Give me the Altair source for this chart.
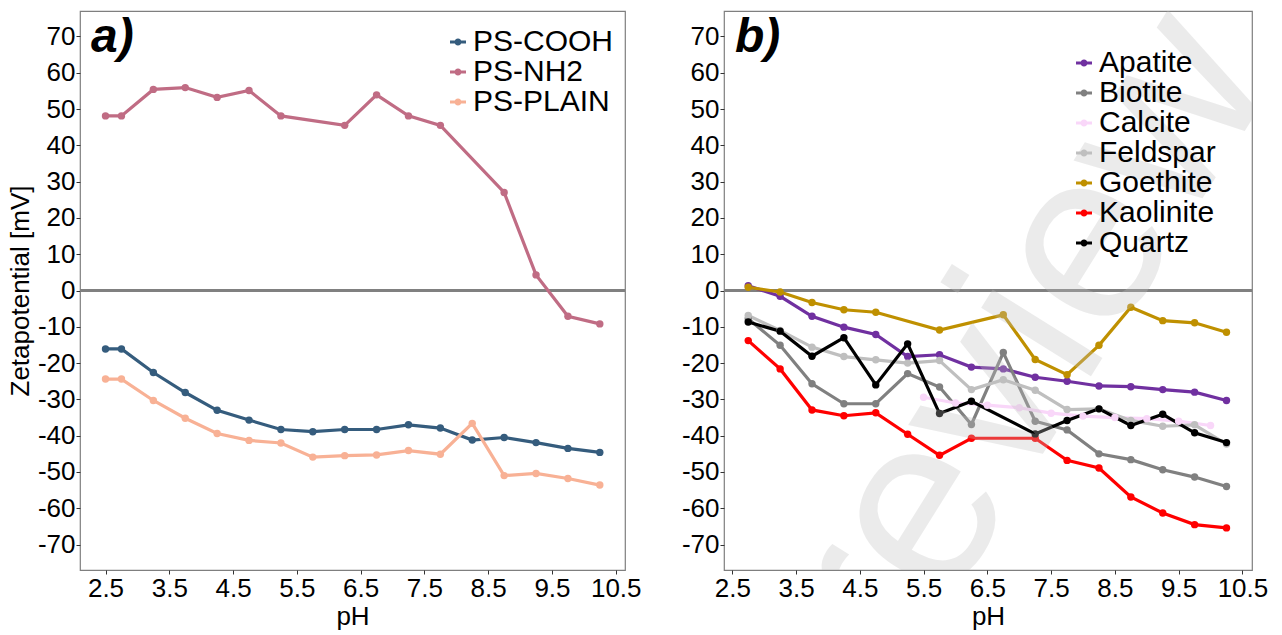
import altair as alt
import pandas as pd

# ---------------- data ----------------
# panel a
SERIES_A = ["PS-COOH", "PS-NH2", "PS-PLAIN"]
COLORS_A = ["#355C7D", "#C06C84", "#F8B195"]
PH_A = [2.5, 2.75, 3.25, 3.75, 4.25, 4.75, 5.25, 5.75, 6.25, 6.75, 7.25, 7.75, 8.25, 8.75, 9.25, 9.75, 10.25]
PS_COOH = [-16.1, -16.1, -22.6, -28.1, -33.0, -35.7, -38.3, -38.9, -38.3, -38.3, -37.0, -37.9, -41.2, -40.5, -41.9, -43.5, -44.6]
PS_PLAIN = [-24.4, -24.4, -30.3, -35.2, -39.4, -41.3, -42.0, -45.9, -45.5, -45.3, -44.1, -45.1, -36.6, -51.0, -50.4, -51.8, -53.6]
PH_NH2 = [2.5, 2.75, 3.25, 3.75, 4.25, 4.75, 5.25, 6.25, 6.75, 7.25, 7.75, 8.75, 9.25, 9.75, 10.25]
PS_NH2 = [48.1, 48.1, 55.4, 55.9, 53.2, 55.1, 48.1, 45.5, 53.9, 48.1, 45.5, 27.0, 4.3, -7.1, -9.2]

# panel b
SERIES_B = ["Apatite", "Biotite", "Calcite", "Feldspar", "Goethite", "Kaolinite", "Quartz"]
COLORS_B = ["#7030A0", "#808080", "#F9D7F9", "#BFBFBF", "#BF9000", "#FF0000", "#000000"]
PH_B = [2.75, 3.25, 3.75, 4.25, 4.75, 5.25, 5.75, 6.25, 6.75, 7.25, 7.75, 8.25, 8.75, 9.25, 9.75, 10.25]
APATITE = [1.3, -1.6, -7.1, -10.1, -12.1, -18.2, -17.7, -21.1, -21.6, -23.9, -25.0, -26.3, -26.5, -27.3, -28.0, -30.3]
BIOTITE = [-7.8, -15.1, -25.7, -31.2, -31.2, -22.9, -26.6, -36.9, -17.1, -36.0, -38.4, -45.0, -46.6, -49.4, -51.4, -54.0]
PH_CALCITE = [5.5, 6.0, 6.5, 7.0, 7.5, 8.0, 8.5, 9.0, 9.5, 10.0]
CALCITE = [-29.4, -31.0, -31.6, -32.3, -33.8, -34.6, -35.0, -35.3, -36.0, -37.2]
FELDSPAR = [-6.9, -11.0, -15.6, -18.2, -19.1, -20.0, -19.3, -27.3, -24.6, -27.5, -32.8, -32.6, -35.8, -37.4, -37.0, -42.3]
PH_GOETHITE = [2.75, 3.25, 3.75, 4.25, 4.75, 5.75, 6.75, 7.25, 7.75, 8.25, 8.75, 9.25, 9.75, 10.25]
GOETHITE = [0.9, -0.4, -3.3, -5.3, -6.0, -10.9, -6.7, -19.0, -23.2, -15.1, -4.6, -8.3, -8.9, -11.5]
PH_KAOLINITE = [2.75, 3.25, 3.75, 4.25, 4.75, 5.25, 5.75, 6.25, 7.25, 7.75, 8.25, 8.75, 9.25, 9.75, 10.25]
KAOLINITE = [-13.8, -21.6, -32.9, -34.5, -33.7, -39.6, -45.4, -40.7, -40.7, -46.8, -48.9, -56.9, -61.3, -64.5, -65.4]
PH_QUARTZ = [2.75, 3.25, 3.75, 4.25, 4.75, 5.25, 5.75, 6.25, 7.25, 7.75, 8.25, 8.75, 9.25, 9.75, 10.25]
QUARTZ = [-8.7, -11.2, -18.1, -13.0, -26.0, -14.7, -33.9, -30.5, -39.5, -35.8, -32.6, -37.2, -34.1, -39.2, -41.9]

X_TICKS = [2.5, 3.5, 4.5, 5.5, 6.5, 7.5, 8.5, 9.5, 10.5]
Y_TICKS = [-70, -60, -50, -40, -30, -20, -10, 0, 10, 20, 30, 40, 50, 60, 70]
PANEL_LABELS = ["a)", "b)"]
WATERMARK = ["review Only"]


def long_table(items):
    rows = []
    for name, xs, ys in items:
        for x, y in zip(xs, ys):
            rows.append({"series": name, "pH": x, "zeta": y})
    return pd.DataFrame(rows)


df_a = long_table([
    ("PS-COOH", PH_A, PS_COOH),
    ("PS-NH2", PH_NH2, PS_NH2),
    ("PS-PLAIN", PH_A, PS_PLAIN),
])
df_b = long_table([
    ("Apatite", PH_B, APATITE),
    ("Biotite", PH_B, BIOTITE),
    ("Calcite", PH_CALCITE, CALCITE),
    ("Feldspar", PH_B, FELDSPAR),
    ("Goethite", PH_GOETHITE, GOETHITE),
    ("Kaolinite", PH_KAOLINITE, KAOLINITE),
    ("Quartz", PH_QUARTZ, QUARTZ),
])

FONT = "Liberation Sans"
SYMBOL = "M-1,-0.19H1V0.19H-1Z M0.44,0A0.44,0.44,0,1,1,-0.44,0A0.44,0.44,0,1,1,0.44,0Z"
Y_DOMAIN = [-77, 77]


def panel(df, series, colors, xdom, width, legend_x, legend_y, ytitle, label):
    x = alt.X("pH:Q", scale=alt.Scale(domain=xdom, nice=False, zero=False),
              axis=alt.Axis(values=X_TICKS, tickCount=20, labelExpr="'' + datum.value",
                            title="pH", titlePadding=2, labelOverlap=False))
    if ytitle:
        yaxis = alt.Axis(values=Y_TICKS, tickCount=20, labelExpr="'' + datum.value", title=ytitle,
                         titlePadding=3, minExtent=44, maxExtent=44, labelOverlap=False)
    else:
        yaxis = alt.Axis(values=Y_TICKS, tickCount=20, labelExpr="'' + datum.value", title=None,
                         minExtent=44, maxExtent=44, labelOverlap=False)
    y = alt.Y("zeta:Q", scale=alt.Scale(domain=Y_DOMAIN, nice=False, zero=False), axis=yaxis)
    legend = alt.Legend(orient="none", legendX=legend_x, legendY=legend_y, title=None,
                        labelFontSize=30, labelFont=FONT, labelColor="black",
                        symbolType=SYMBOL, symbolSize=256, symbolStrokeWidth=0,
                        rowPadding=-2.5, labelOffset=0, padding=0)
    color = alt.Color("series:N", scale=alt.Scale(domain=series, range=colors), legend=legend)
    base = alt.Chart(df)
    zero = base.mark_rule(color="#808080", strokeWidth=1.5).encode(y=alt.datum(0))
    lines = base.mark_line(strokeWidth=3.2).encode(x=x, y=y, color=color, detail="series:N")
    points = base.mark_point(filled=True, size=55, opacity=1).encode(x=x, y=y, color=color)
    lab = alt.Chart(pd.DataFrame({"label": [label]})).mark_text(
        align="left", baseline="alphabetic", fontSize=48, fontStyle="italic",
        fontWeight="bold", font=FONT, color="black"
    ).encode(text="label:N", x=alt.value(11), y=alt.value(41))
    return [zero, lines, points, lab], width


layers_a, wa = panel(df_a, SERIES_A, COLORS_A, [2.1, 10.645], 545, 363, 16, "Zetapotential [mV]", PANEL_LABELS[0])
layers_b, wb = panel(df_b, SERIES_B, COLORS_B, [2.37, 10.65], 528, 345, 37, None, PANEL_LABELS[1])

wm = alt.Chart(pd.DataFrame({"wm": WATERMARK})).mark_text(
    align="left", baseline="alphabetic", angle=302, fontSize=245, font=FONT,
    color="#BFBFBF", opacity=0.3, clip=True
).encode(text="wm:N", x=alt.value(178), y=alt.value(668))

panel_a = alt.layer(*layers_a).properties(width=wa, height=559)
panel_b = alt.layer(*layers_b, wm).properties(width=wb, height=559)

chart = (
    alt.hconcat(panel_a, panel_b, spacing=37)
    .resolve_scale(color="independent")
    .resolve_legend(color="independent")
    .properties(padding={"left": 6, "top": 10, "right": 5, "bottom": 0})
    .configure(font=FONT)
    .configure_view(stroke="#7F7F7F", strokeWidth=1.2)
    .configure_axis(
        labelFont=FONT, titleFont=FONT, labelFontSize=26, titleFontSize=26,
        titleFontWeight="normal", labelColor="black", titleColor="black",
        tickColor="#333333", tickSize=4, tickWidth=1, domain=False, grid=False,
        labelPadding=1
    )
)

chart.save("out.html", embed_options={"renderer": "svg", "actions": False})
